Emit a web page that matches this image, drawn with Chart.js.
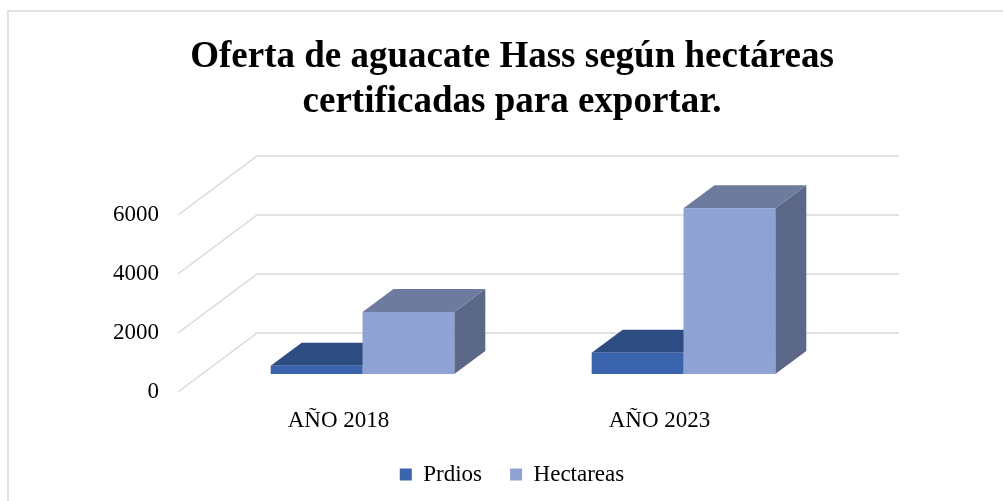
<!DOCTYPE html>
<html>
<head>
<meta charset="utf-8">
<script src="https://cdn.jsdelivr.net/npm/chart.js@4"></script>
<style>
    body { margin: 0; background: #fff; }
</style>
</head>
<body>
<canvas id="myChart" width="1003" height="501"></canvas>
<script>
const years = ['AÑO 2018', 'AÑO 2023'];
const prdios = [280, 720];
const hectareas = [2100, 5620];
const yTicks = [0, 2000, 4000, 6000];
const titleLines = ['Oferta de aguacate Hass según hectáreas', 'certificadas para exportar.'];

const frontColors = ['#3b64ae', '#8fa2d4'];
const topColors = ['#2d4c82', '#6c7b9e'];
const sideColors = ['#283f6b', '#5b6786'];

// depth of the floor / bars, in pixels
const wallDx = 79, wallDy = 59;
const barShiftX = 24, barShiftY = 18;
const barDx = 31, barDy = 23;

const serif = 'Liberation Serif';

const fake3d = {
    id: 'fake3d',
    beforeDraw(chart) {
        const c = chart.ctx;
        c.save();
        c.strokeStyle = '#d9d9d9';
        c.lineWidth = 1.5;
        c.strokeRect(8, 11, 1010, 510);
        c.restore();
    },
    beforeDatasetsDraw(chart) {
        const c = chart.ctx;
        const area = chart.chartArea;
        const y = chart.scales.y;

        // walls: back gridlines + side diagonals
        c.save();
        c.strokeStyle = '#d9d9d9';
        c.lineWidth = 1.5;
        yTicks.forEach(v => {
            const py = y.getPixelForValue(v);
            c.beginPath();
            c.moveTo(area.left, py);
            c.lineTo(area.left + wallDx, py - wallDy);
            c.lineTo(area.right + wallDx, py - wallDy);
            c.stroke();
        });
        c.restore();

        // bars, left to right so the right one covers the left one's top
        for (let i = 0; i < years.length; i++) {
            chart.data.datasets.forEach((ds, d) => {
                const el = chart.getDatasetMeta(d).data[i];
                const l = el.x - el.width / 2 + barShiftX;
                const r = el.x + el.width / 2 + barShiftX;
                const t = el.y - barShiftY;
                const b = el.base - barShiftY;

                c.fillStyle = sideColors[d];
                c.beginPath();
                c.moveTo(r, t);
                c.lineTo(r + barDx, t - barDy);
                c.lineTo(r + barDx, b - barDy);
                c.lineTo(r, b);
                c.closePath();
                c.fill();

                c.fillStyle = topColors[d];
                c.beginPath();
                c.moveTo(l, t);
                c.lineTo(l + barDx, t - barDy);
                c.lineTo(r + barDx, t - barDy);
                c.lineTo(r, t);
                c.closePath();
                c.fill();

                c.fillStyle = frontColors[d];
                c.fillRect(l, t, r - l, b - t);
            });
        }
        return false;
    }
};

const ctx = document.getElementById('myChart').getContext('2d');

const myChart = new Chart(ctx, {
    type: 'bar',
    data: {
        labels: years,
        datasets: [{
            label: 'Prdios',
            data: prdios,
            backgroundColor: frontColors[0],
            borderWidth: 0
        }, {
            label: 'Hectareas',
            data: hectareas,
            backgroundColor: frontColors[1],
            borderWidth: 0
        }]
    },
    options: {
        responsive: false,
        animation: false,
        layout: {
            padding: {left: 21, right: 0, top: 0, bottom: 5}
        },
        datasets: {
            bar: {
                barPercentage: 1,
                categoryPercentage: 0.572
            }
        },
        scales: {
            x: {
                grid: {display: false, drawTicks: false},
                border: {display: false},
                ticks: {
                    color: '#000',
                    padding: 15,
                    font: {family: serif, size: 23}
                },
                afterFit(scale) { scale.height = 43; }
            },
            y: {
                min: 0,
                max: 6000,
                grid: {display: false, drawTicks: false},
                border: {display: false},
                ticks: {
                    stepSize: 2000,
                    color: '#000',
                    padding: 19,
                    font: {family: serif, size: 23},
                    callback: v => String(v)
                },
                afterFit(scale) { scale.width = 157; }
            },
            // empty room on the right, keeps title and legend centred on the whole chart
            spacer: {
                type: 'linear',
                position: 'right',
                grid: {display: false, drawTicks: false},
                border: {display: false},
                ticks: {display: false},
                afterFit(scale) { scale.width = 183; }
            }
        },
        plugins: {
            title: {
                display: true,
                text: titleLines,
                color: '#000',
                font: {family: serif, size: 37, weight: 'bold', lineHeight: '45px'},
                padding: {top: 35, bottom: 90}
            },
            legend: {
                position: 'bottom',
                labels: {
                    boxWidth: 12,
                    boxHeight: 12,
                    padding: 28,
                    color: '#000',
                    font: {family: serif, size: 23}
                }
            },
            tooltip: {enabled: false}
        }
    },
    plugins: [fake3d]
});
</script>
</body>
</html>
